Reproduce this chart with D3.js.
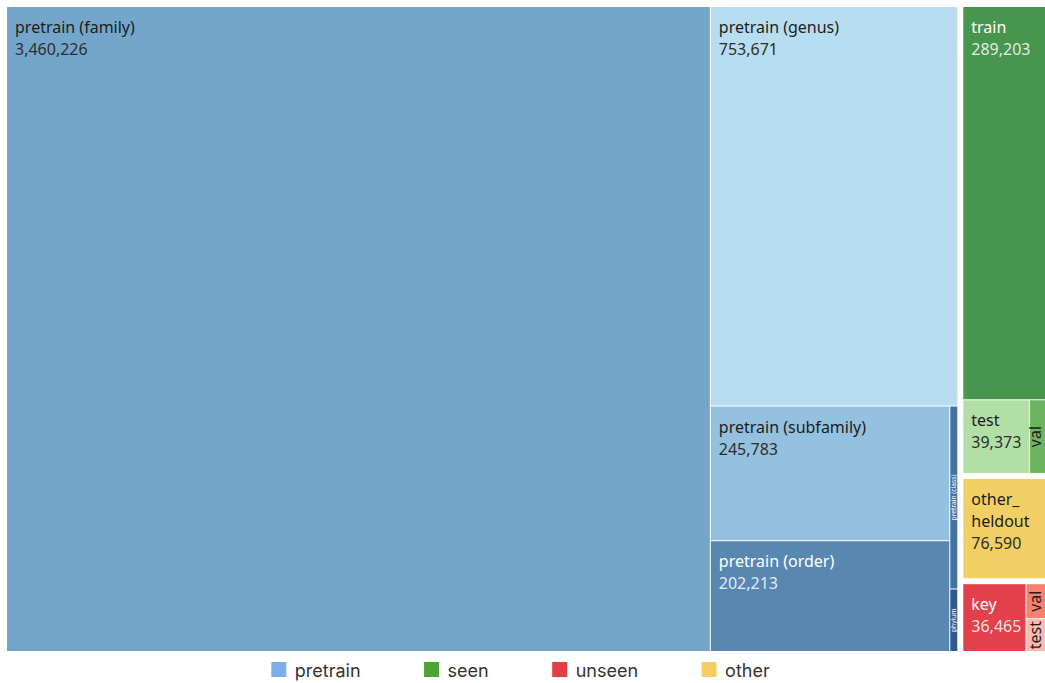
<!DOCTYPE html>
<html><head><meta charset="utf-8">
<script src="https://cdn.jsdelivr.net/npm/d3@7"></script>
<style>
html,body{margin:0;padding:0;background:#fff;}
svg{display:block;}
</style></head><body>
<svg id="chart" width="1045" height="683"></svg>
<script>
// ---- data ----
const groups = ["pretrain", "seen", "unseen", "other"];
const pretrainNames = ["pretrain (family)", "pretrain (genus)", "pretrain (subfamily)", "pretrain (order)", "pretrain (class)", "phylum"];
const pretrainValues = [3460226, 753671, 245783, 202213, 11180, 3820];
const seenNames = ["train", "test", "val"];
const seenValues = [289203, 39373, 14800];
const unseenNames = ["key", "val", "test"];
const unseenValues = [36465, 8500, 8000];
const otherNames = ["other_heldout"];
const otherValues = [76590];

// ---- styles ----
const groupColors = ["#7eaee8", "#4ea332", "#e23e44", "#f3cd66"];
const pretrainColors = ["#74a6cb", "#b8ddf0", "#94c1e0", "#5888b2", "#4272a6", "#2f5b8c"];
const seenColors = ["#48954e", "#b2dfa5", "#6cb45f"];
const unseenColors = ["#e2404a", "#f8806f", "#fdb9b0"];
const otherColors = ["#f2cf64"];

const names = [pretrainNames, seenNames, unseenNames, otherNames];
const values = [pretrainValues, seenValues, unseenValues, otherValues];
const colors = [pretrainColors, seenColors, unseenColors, otherColors];

const W = 1045, OX = 7, OY = 7;
const svg = d3.select("#chart");
const fmt = d3.format(",");

const data = {
  name: "root",
  children: groups.map((g, i) => ({
    name: g,
    children: names[i].map((n, j) => ({ name: n, value: values[i][j], color: colors[i][j] }))
  }))
};

const root = d3.hierarchy(data)
  .sum(d => d.value || 0)
  .sort((a, b) => b.value - a.value);

d3.treemap()
  .tile(d3.treemapSquarify)
  .size([1047, 644])
  .paddingInner(d => d.depth === 0 ? 6 : 1)
  (root);

const g = svg.append("g").attr("transform", `translate(${OX},${OY})`);

const leaves = root.leaves();
const cell = g.selectAll("g.cell").data(leaves).join("g").attr("class", "cell");

cell.append("rect")
  .attr("x", d => d.x0)
  .attr("y", d => d.y0)
  .attr("width", d => Math.max(0, d.x1 - d.x0))
  .attr("height", d => Math.max(0, d.y1 - d.y0))
  .attr("fill", d => d.data.color);

function isDark(c) {
  const r = d3.rgb(c);
  return (0.299 * r.r + 0.587 * r.g + 0.114 * r.b) / 255 < 0.55;
}

const FONT = "'Noto Sans', 'Open Sans', sans-serif";

cell.each(function(d) {
  const sel = d3.select(this);
  const w = d.x1 - d.x0, h = d.y1 - d.y0;
  const dark = isDark(d.data.color);
  const nameFill = dark ? "#ffffff" : "#1d1d1d";
  const valFill = dark ? "rgba(255,255,255,0.85)" : "#2e2e2e";

  const probe = sel.append("text").attr("font-family", FONT).attr("font-size", 16).text(d.data.name);
  const nameW = probe.node().getComputedTextLength();
  probe.remove();

  let lines = [d.data.name];
  let fits = nameW + 16 <= w;
  if (!fits && /[_ ]/.test(d.data.name)) {
    const parts = d.data.name.split(/(?<=[_ ])/);
    const tmp = sel.append("text").attr("font-family", FONT).attr("font-size", 16);
    const widths = parts.map(p => { tmp.text(p); return tmp.node().getComputedTextLength(); });
    tmp.remove();
    if (d3.max(widths) + 16 <= w) { lines = parts.map(p => p.trim()); fits = true; }
  }

  if (fits && h >= 34) {
    const t = sel.append("text")
      .attr("font-family", FONT)
      .attr("font-size", 16);
    lines.forEach((ln, k) => {
      t.append("tspan").attr("x", d.x0 + 8).attr("y", d.y0 + 26 + k * 22)
        .attr("fill", nameFill).text(ln);
    });
    if (h >= 26 + lines.length * 22 + 4) {
      t.append("tspan").attr("x", d.x0 + 8).attr("y", d.y0 + 26 + lines.length * 22)
        .attr("fill", valFill).text(fmt(d.data.value));
    }
  } else {
    // rotated label, centred in the cell, kept inside the visible page
    const fs = Math.min(16, w * 0.95);
    let cx = (d.x0 + d.x1) / 2;
    const maxCx = W - OX - fs * 0.62;
    if (cx > maxCx) cx = maxCx;
    const cy = (d.y0 + d.y1) / 2;
    sel.append("text")
      .attr("font-family", FONT)
      .attr("font-size", fs)
      .attr("fill", nameFill)
      .attr("text-anchor", "middle")
      .attr("dominant-baseline", "central")
      .attr("transform", `translate(${cx},${cy}) rotate(-90)`)
      .text(d.data.name);
  }
});

// ---- legend ----
const LFONT = "Inter, Roboto, sans-serif";
const legend = svg.append("g").attr("class", "legend");
const sq = 15, sqGap = 8.5, itemGap = 63.5;
const tmpL = legend.append("text").attr("font-family", LFONT).attr("font-size", 18);
const lw = groups.map(n => { tmpL.text(n); return tmpL.node().getComputedTextLength(); });
tmpL.remove();
const total = d3.sum(lw) + groups.length * (sq + sqGap) + itemGap * (groups.length - 1);
let lx = (W - total) / 2 - 2;
groups.forEach((n, i) => {
  legend.append("rect").attr("x", lx).attr("y", 662).attr("width", sq).attr("height", sq).attr("fill", groupColors[i]);
  legend.append("text").attr("x", lx + sq + sqGap).attr("y", 670)
    .attr("dominant-baseline", "central")
    .attr("font-family", LFONT).attr("font-size", 18).attr("fill", "#333")
    .text(n);
  lx += sq + sqGap + lw[i] + itemGap;
});
</script>
</body></html>
